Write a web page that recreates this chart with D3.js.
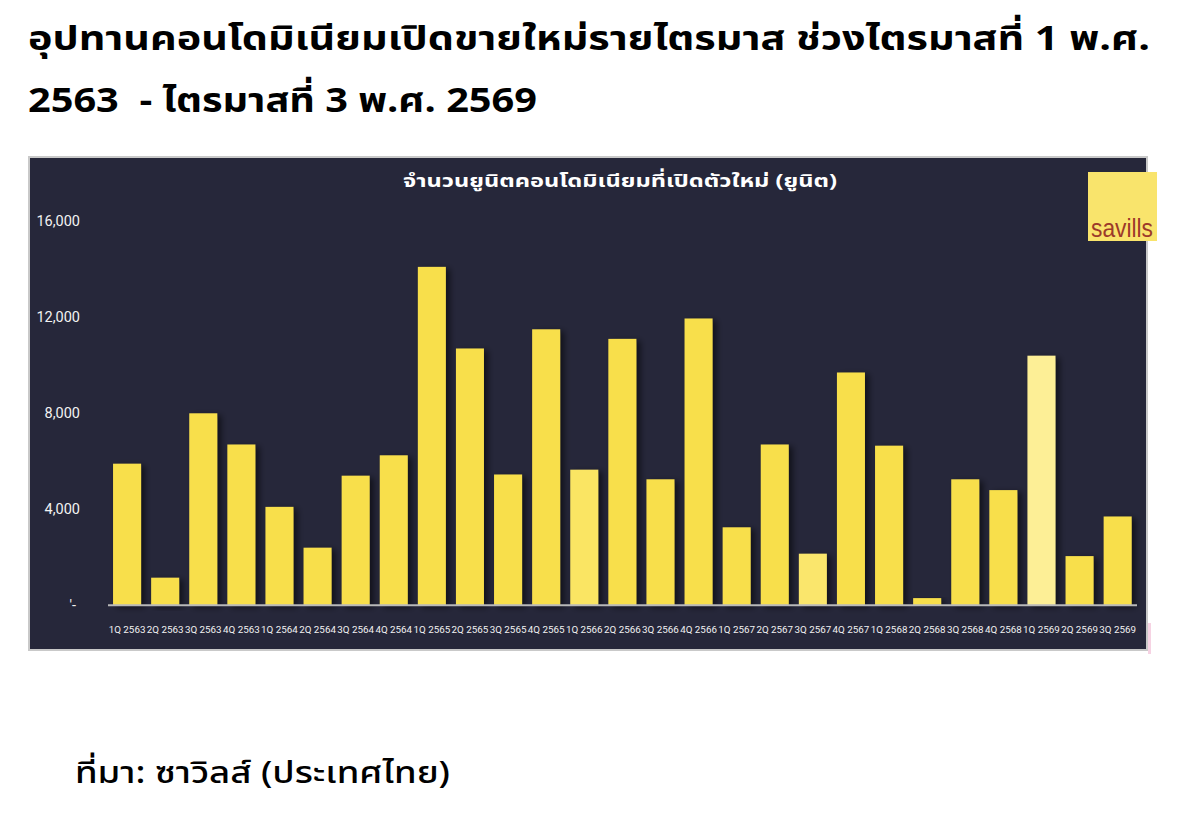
<!DOCTYPE html>
<html>
<head>
<meta charset="utf-8">
<script src="https://cdn.jsdelivr.net/npm/d3@7"></script>
<style>
  html, body { margin: 0; padding: 0; background: #ffffff; }
  svg { display: block; }
</style>
</head>
<body>
<svg id="chart" width="1184" height="822"></svg>
<script>
// ---------- data ----------
const titleLines = [
  "อุปทานคอนโดมิเนียมเปิดขายใหม่รายไตรมาส ช่วงไตรมาสที่ 1 พ.ศ.",
  "2563  - ไตรมาสที่ 3 พ.ศ. 2569"
];
const chartTitle = "จำนวนยูนิตคอนโดมิเนียมที่เปิดตัวใหม่ (ยูนิต)";
const sourceText = "ที่มา: ซาวิลส์ (ประเทศไทย)";
const categories = [
  "1Q 2563","2Q 2563","3Q 2563","4Q 2563",
  "1Q 2564","2Q 2564","3Q 2564","4Q 2564",
  "1Q 2565","2Q 2565","3Q 2565","4Q 2565",
  "1Q 2566","2Q 2566","3Q 2566","4Q 2566",
  "1Q 2567","2Q 2567","3Q 2567","4Q 2567",
  "1Q 2568","2Q 2568","3Q 2568","4Q 2568",
  "1Q 2569","2Q 2569","3Q 2569"
];
const units = [
  5900, 1150, 8000, 6700,
  4100, 2400, 5400, 6250,
  14100, 10700, 5450, 11500,
  5650, 11100, 5250, 11950,
  3250, 6700, 2150, 9700,
  6650, 300, 5250, 4800,
  10400, 2050, 3700
];
const yTicks = [0, 4000, 8000, 12000, 16000];
const yTickLabels = ["'-", "4,000", "8,000", "12,000", "16,000"];

// ---------- styles ----------
const barColor = "#f8df4c";
const toneOf = { "1Q 2566": "#fae564", "3Q 2567": "#fae66c", "1Q 2569": "#fdef96" };
const panelColor = "#26273a";

const svg = d3.select("#chart");
const thaiFont = "'Noto Sans Thai', 'Noto Sans Thai UI', 'Noto Sans', sans-serif";

// defs
const defs = svg.append("defs");
const sh = defs.append("filter").attr("id", "barShadow")
  .attr("x", "-30%").attr("y", "-10%").attr("width", "180%").attr("height", "130%");
sh.append("feDropShadow").attr("dx", 4).attr("dy", 2).attr("stdDeviation", 3)
  .attr("flood-color", "#000").attr("flood-opacity", 0.55);
const gsh = defs.append("filter").attr("id", "gridShadow")
  .attr("x", "-5%").attr("y", "-200%").attr("width", "110%").attr("height", "500%");
gsh.append("feDropShadow").attr("dx", 0).attr("dy", 1.5).attr("stdDeviation", 1)
  .attr("flood-color", "#000").attr("flood-opacity", 0.6);

// main title
const tBase = [50, 112];
titleLines.forEach((line, i) => {
  const t = svg.append("text")
    .attr("x", 28).attr("y", tBase[i])
    .attr("font-family", thaiFont)
    .attr("font-weight", 700)
    .attr("font-size", 34)
    .attr("fill", "#000")
    .style("white-space", "pre")
    .attr("xml:space", "preserve")
    .text(line);
  const targetW = i === 0 ? 1122 : 509;
  t.attr("textLength", targetW).attr("lengthAdjust", "spacingAndGlyphs");
});

// panel
svg.append("rect")
  .attr("x", 29).attr("y", 157).attr("width", 1118).attr("height", 493)
  .attr("fill", panelColor).attr("stroke", "#c9c9c9").attr("stroke-width", 2);

// scales
const x = d3.scaleBand().domain(categories).range([108, 1136.7])
  .paddingInner(0.265).paddingOuter(0.1325);
const y = d3.scaleLinear().domain([0, 16000]).range([605.3, 221.3]);

// gridlines via axis
const gAxis = svg.append("g").attr("transform", "translate(108,0)")
  .call(d3.axisLeft(y).tickValues(yTicks).tickSize(-1029).tickFormat(""));
gAxis.select(".domain").remove();
gAxis.selectAll(".tick line")
  .attr("stroke", "#c6c6c6").attr("stroke-width", 2)
  .attr("filter", "url(#gridShadow)");

// y tick labels
svg.append("g").selectAll("text").data(yTicks).join("text")
  .attr("x", (d) => d === 0 ? 76 : 80)
  .attr("y", (d) => y(d) + 5)
  .attr("text-anchor", "end")
  .attr("font-family", "Roboto, 'Noto Sans', sans-serif")
  .attr("font-size", 14.5)
  .attr("fill", "#f2f2f2")
  .text((d, i) => yTickLabels[i]);

// bars
svg.append("g").selectAll("rect").data(units).join("rect")
  .attr("x", (d, i) => x(categories[i]))
  .attr("y", (d) => y(d))
  .attr("width", x.bandwidth())
  .attr("height", (d) => y(0) - y(d))
  .attr("fill", (d, i) => toneOf[categories[i]] || barColor)
  .attr("filter", "url(#barShadow)");

// baseline on top
svg.append("line")
  .attr("x1", 108).attr("x2", 1137).attr("y1", y(0)).attr("y2", y(0))
  .attr("stroke", "#b9b9b9").attr("stroke-width", 2);

// x labels (small enough that neighbours do not collide)
svg.append("g").selectAll("text").data(categories).join("text")
  .attr("x", (d) => x(d) + x.bandwidth() / 2)
  .attr("y", 633)
  .attr("text-anchor", "middle")
  .attr("font-family", "Roboto, 'Noto Sans', sans-serif")
  .attr("font-size", 9.8)
  .attr("fill", "#f2f2f2")
  .text((d) => d);

// chart title
svg.append("text")
  .attr("x", 620).attr("y", 187)
  .attr("text-anchor", "middle")
  .attr("font-family", thaiFont)
  .attr("font-weight", 700)
  .attr("font-size", 18)
  .attr("fill", "#ffffff")
  .attr("textLength", 434).attr("lengthAdjust", "spacingAndGlyphs")
  .text(chartTitle);

// savills logo
svg.append("rect").attr("x", 1088).attr("y", 172).attr("width", 69).attr("height", 69)
  .attr("fill", "#f9e46c");
svg.append("text").attr("x", 1091).attr("y", 237)
  .attr("font-family", "'Liberation Sans', Arial, sans-serif")
  .attr("font-size", 25)
  .attr("fill", "#9c3a2a")
  .attr("textLength", 62).attr("lengthAdjust", "spacingAndGlyphs")
  .text("savills");

// small pink mark at right edge
svg.append("rect").attr("x", 1148).attr("y", 623).attr("width", 3).attr("height", 31)
  .attr("fill", "#f6d3e3");

// source
svg.append("text")
  .attr("x", 75).attr("y", 783)
  .attr("font-family", thaiFont)
  .attr("font-weight", 500)
  .attr("font-size", 30)
  .attr("fill", "#000")
  .attr("textLength", 375).attr("lengthAdjust", "spacingAndGlyphs")
  .text(sourceText);
</script>
</body>
</html>
